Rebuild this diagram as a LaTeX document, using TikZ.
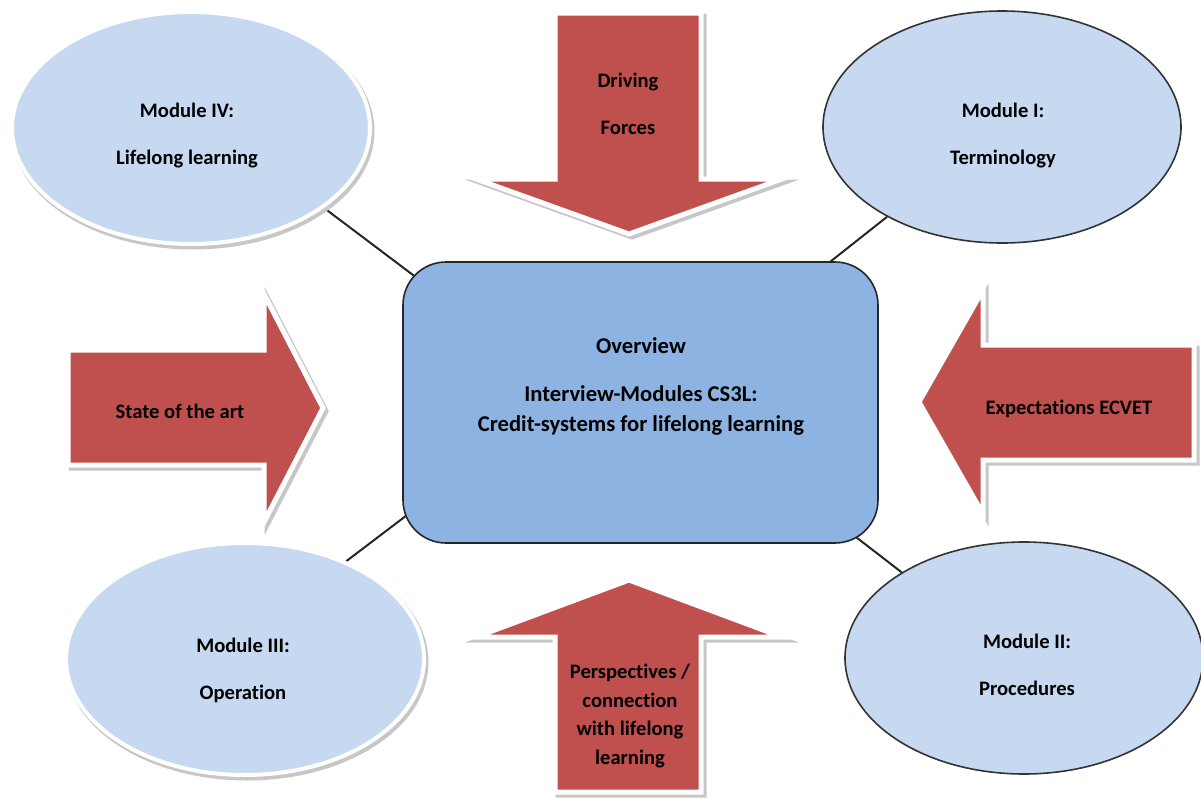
\documentclass[tikz,border=0pt]{standalone}
\usepackage{fontspec}
\setmainfont{Carlito}[Ligatures=NoCommon]
\usetikzlibrary{shapes.geometric,calc,backgrounds}
\definecolor{lblue}{HTML}{C6D9F1}
\definecolor{bblue}{HTML}{8DB3E2}
\definecolor{ared}{HTML}{C0504D}
\tikzset{
 modell/.style={ellipse, minimum width=179pt, minimum height=116pt, inner sep=0pt, fill=lblue},
 darkrim/.style={draw=black!80, line width=0.8pt},
 whiterim/.style={draw=white, line width=2pt},
 rimshadow/.style={ellipse, minimum width=179pt, minimum height=116pt, inner sep=0pt, draw=black!22, line width=2.5pt, fill=black!22},
 lbl/.style={font=\bfseries\fontsize{10.3}{23.5}\selectfont, align=center, text=black, inner sep=0pt},
 blockarrow/.style={fill=ared, draw=white, line width=2.5pt, line join=miter},
 arrowshadow/.style={fill=black!22, draw=black!22, line width=2.5pt, line join=miter},
 link/.style={draw=black!85, line width=1pt},
 centerbox/.style={rectangle, rounded corners=21.5pt, minimum width=237.5pt, minimum height=140.5pt, fill=bblue, draw=black!85, line width=0.8pt, inner sep=0pt},
}
\begin{document}
\begin{tikzpicture}[x=0.5pt,y=-0.5pt]
\useasboundingbox (0,0) rectangle (1201,798);

% block arrows: shadows
\path[arrowshadow, shift={(3,3)}] (555,13) -- (701,13) -- (701,179) -- (782,179) -- (629,234) -- (476,179) -- (555,179) -- cycle;
\path[arrowshadow, shift={(3,3)}] (555,792) -- (555,637) -- (476,637) -- (629,580) -- (782,637) -- (701,637) -- (701,792) -- cycle;
\path[arrowshadow, shift={(3,3)}] (68,350) -- (264,350) -- (264,294) -- (323,408) -- (264,522) -- (264,465) -- (68,465) -- cycle;
\path[arrowshadow, shift={(3,3)}] (1194,345) -- (983,345) -- (983,290) -- (919,402) -- (983,514) -- (983,460) -- (1194,460) -- cycle;
% block arrows
\path[blockarrow] (555,13) -- (701,13) -- (701,179) -- (782,179) -- (629,234) -- (476,179) -- (555,179) -- cycle;
\path[blockarrow] (555,792) -- (555,637) -- (476,637) -- (629,580) -- (782,637) -- (701,637) -- (701,792) -- cycle;
\path[blockarrow] (68,350) -- (264,350) -- (264,294) -- (323,408) -- (264,522) -- (264,465) -- (68,465) -- cycle;
\path[blockarrow] (1194,345) -- (983,345) -- (983,290) -- (919,402) -- (983,514) -- (983,460) -- (1194,460) -- cycle;

% ellipses
\node[rimshadow] (m4s) at (193,131) {};
\node[modell, whiterim] (m4) at (191,128) {};
\node[modell, darkrim] (m1) at (1002,127) {};
\node[rimshadow] (m3s) at (247,662) {};
\node[modell, whiterim] (m3) at (245,659) {};
\node[modell, darkrim] (m2) at (1024,658) {};

% central box
\node[centerbox] (box) at (640.5,402.5) {};

% connectors behind
\begin{pgfonlayer}{background}
\fill[white] (0,0) rectangle (1201,798);
\draw[link] (m4.-31) -- ($(box.north west)+(27,26)$);
\draw[link] (m1.-142) -- ($(box.north east)+(-58,8)$);
\draw[link] (m3.44) -- ($(box.south west)+(17,-38)$);
\draw[link] (m2.145) -- ($(box.south east)+(-40,-20)$);
\end{pgfonlayer}

% texts
\node[lbl] (t4) at (187,136) {Module IV:\\Lifelong learning};
\node[lbl] (t1) at (1003,135.5) {Module I:\\Terminology};
\node[lbl] (t3) at (243,670) {Module III:\\Operation};
\node[lbl] (t2) at (1027,665) {Module II:\\Procedures};
\node[lbl] (tdf) at (628,103.5) {Driving\\Forces};
\node[lbl, font=\bfseries\fontsize{11.3}{15}\selectfont] (tc) at (641,386) {Overview\\[9pt]Interview-Modules CS3L:\\Credit-systems for lifelong learning};
\node[lbl] (tsa) at (180,411) {State of the art};
\node[lbl] (tex) at (1069,408.5) {Expectations ECVET};
\node[lbl, font=\bfseries\fontsize{10.3}{14.2}\selectfont] (tpe) at (630,716) {Perspectives /\\connection\\with lifelong\\learning};
\end{tikzpicture}
\end{document}
